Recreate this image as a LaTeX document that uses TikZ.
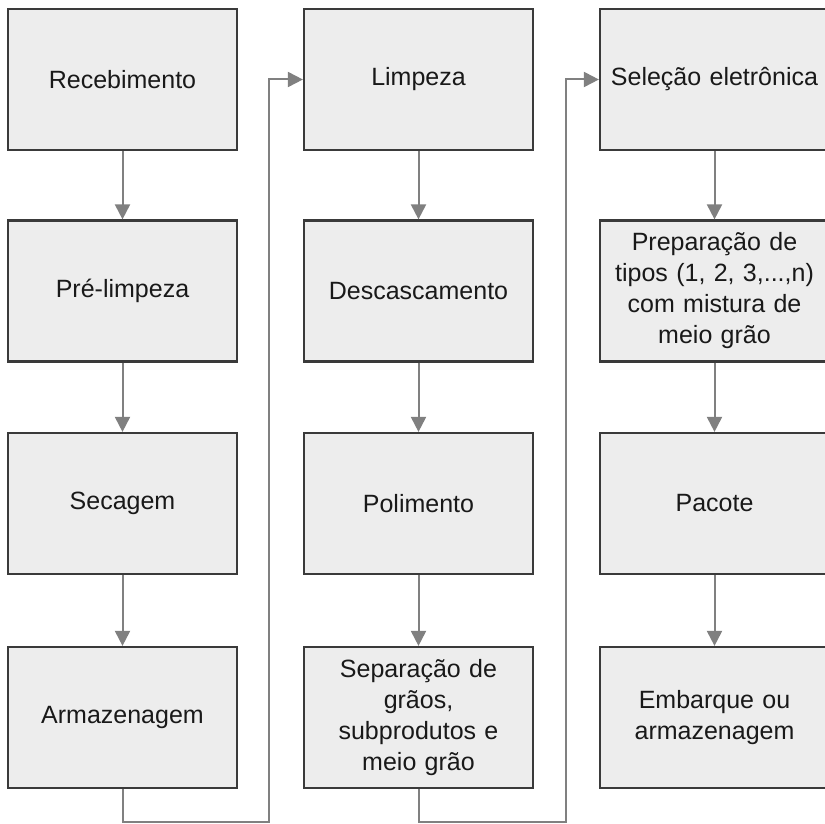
\documentclass[tikz,border=0pt]{standalone}
\usepackage{fontspec}
\setmainfont{Liberation Sans}
\usetikzlibrary{arrows.meta}
\definecolor{boxfill}{HTML}{EDEDED}
\definecolor{boxline}{HTML}{3A3A3A}
\definecolor{conncol}{HTML}{808080}
\begin{document}
\begin{tikzpicture}[x=1pt,y=-1pt,
  box/.style={draw=boxline,fill=boxfill,line width=2.2pt,minimum width=229pt,minimum height=141pt,
    inner sep=0pt,align=center,text width=224pt,font=\fontsize{25}{31}\selectfont,text=black!90},
  conn/.style={draw=conncol,line width=2pt,-{Triangle[length=15pt,width=15pt]}}]
\useasboundingbox (0,0) rectangle (825,824);
\clip (0,0) rectangle (825,824);
\node[box] (a1) at (122.5,79.5) {Recebimento};
\node[box] (a2) at (122.5,291) {Pré-limpeza};
\node[box] (a3) at (122.5,503.5) {Secagem};
\node[box] (a4) at (122.5,717.5) {Armazenagem};
\node[box] (b1) at (418.5,79.5) {Limpeza};
\node[box] (b2) at (418.5,291) {Descascamento};
\node[box] (b3) at (418.5,503.5) {Polimento};
\node[box] (b4) at (418.5,717.5) {Separação de\\grãos,\\subprodutos e\\meio grão};
\node[box] (c1) at (714.5,79.5) {Seleção eletrônica};
\node[box] (c2) at (714.5,291) {Preparação de\\tipos (1, 2, 3,...,n)\\com mistura de\\meio grão};
\node[box] (c3) at (714.5,503.5) {Pacote};
\node[box] (c4) at (714.5,717.5) {Embarque ou\\armazenagem};
\draw[conn] (a1) -- (a2);
\draw[conn] (a2) -- (a3);
\draw[conn] (a3) -- (a4);
\draw[conn] (b1) -- (b2);
\draw[conn] (b2) -- (b3);
\draw[conn] (b3) -- (b4);
\draw[conn] (c1) -- (c2);
\draw[conn] (c2) -- (c3);
\draw[conn] (c3) -- (c4);
\coordinate (j1) at (269,822);
\coordinate (j2) at (566,822);
\draw[conn] (a4.south) |- (j1) |- (b1.west);
\draw[conn] (b4.south) |- (j2) |- (c1.west);
\end{tikzpicture}
\end{document}
